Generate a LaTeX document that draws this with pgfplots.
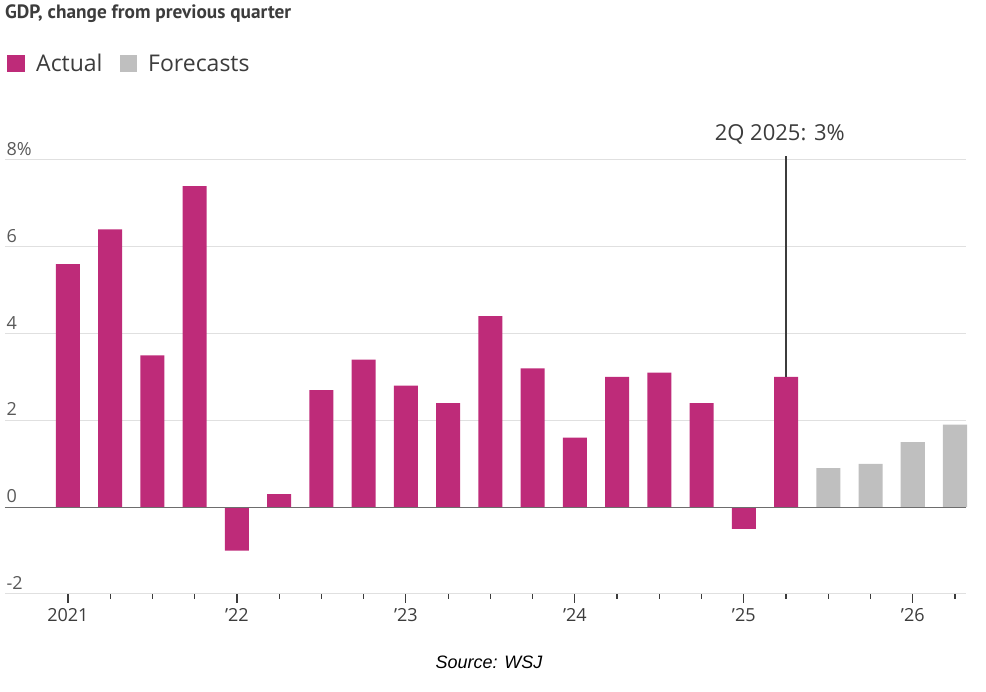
\documentclass[border=0pt]{standalone}
\usepackage{fontspec}
\setmainfont{Open Sans}
\newfontfamily\titlefont{PT Sans}
\newfontfamily\srcfont{Liberation Sans}
\usepackage{pgfplots}
\pgfplotsset{compat=1.18}
\definecolor{actual}{RGB}{190,43,121}
\definecolor{forecast}{RGB}{191,191,191}
\definecolor{txt}{RGB}{60,60,60}
\definecolor{gridc}{RGB}{224,224,224}

\begin{document}
\begin{tikzpicture}[x=1pt,y=1pt]
  % title and legend (1pt = 1px of the reference, y counted from bottom)
  \node[anchor=base west, inner sep=0pt, text=txt] at (5,673.5)
    {\titlefont\bfseries\fontsize{19.3}{21}\selectfont GDP, change from previous quarter};
  \fill[actual] (7,620) rectangle (25,637);
  \node[anchor=base west, inner sep=0pt, text=txt] at (36,620)
    {\fontsize{23}{25}\selectfont Actual};
  \fill[forecast] (120,620) rectangle (137,637);
  \node[anchor=base west, inner sep=0pt, text=txt] at (148,620)
    {\fontsize{23}{25}\selectfont Forecasts};

  \begin{axis}[
      at={(5pt,98pt)}, anchor=south west,
      scale only axis, width=961pt, height=434pt,
      xmin=-1.49, xmax=21.26,
      ymin=-2, ymax=8,
      clip=false,
      axis line style={draw=none},
      ybar, bar width=0.57, bar shift=0pt,
      ymajorgrids, grid style={gridc, line width=1pt},
      ytick={-2,0,2,4,6,8},
      yticklabels={-2,0,2,4,6,8\%},
      ytick style={draw=none},
      yticklabel style={anchor=south west, xshift=7pt, yshift=1pt,
        font=\fontsize{18}{20}\selectfont, text=txt!85},
      xtick={0,4,8,12,16,20},
      xticklabels={2021,’22,’23,’24,’25,’26},
      minor xtick={1,2,3,5,6,7,9,10,11,13,14,15,17,18,19,21},
      xtick pos=bottom, tick align=outside,
      major tick length=9pt, minor tick length=5pt,
      every tick/.style={txt, line width=1.2pt},
      xticklabel style={font=\fontsize{18}{20}\selectfont, text=txt, yshift=-2pt},
      /pgf/number format/assume math mode=true,
    ]
    \addplot[draw=none, fill=actual] coordinates {
      (0,5.6) (1,6.4) (2,3.5) (3,7.4)
      (4,-1.0) (5,0.3) (6,2.7) (7,3.4)
      (8,2.8) (9,2.4) (10,4.4) (11,3.2)
      (12,1.6) (13,3.0) (14,3.1) (15,2.4)
      (16,-0.5) (17,3.0)
    };
    \addplot[draw=none, fill=forecast] coordinates {
      (18,0.9) (19,1.0) (20,1.5) (21,1.9)
    };
    % zero line
    \draw[txt!75, line width=1.3pt] (axis cs:-1.49,0) -- (axis cs:21.26,0);
    % annotation
    \draw[txt, line width=1.2pt] (axis cs:17,3) -- (axis cs:17,8.1);
    \node[anchor=base, inner sep=0pt, text=txt] at (axis cs:16.85,8.44)
      {\fontsize{22}{24}\selectfont 2Q 2025: 3\%};
  \end{axis}

  \node[anchor=base, inner sep=0pt] at (489,23)
    {\srcfont\itshape\fontsize{18}{20}\selectfont Source: WSJ};

  \pgfresetboundingbox
  \useasboundingbox (0,0) rectangle (986,692);
\end{tikzpicture}
\end{document}
